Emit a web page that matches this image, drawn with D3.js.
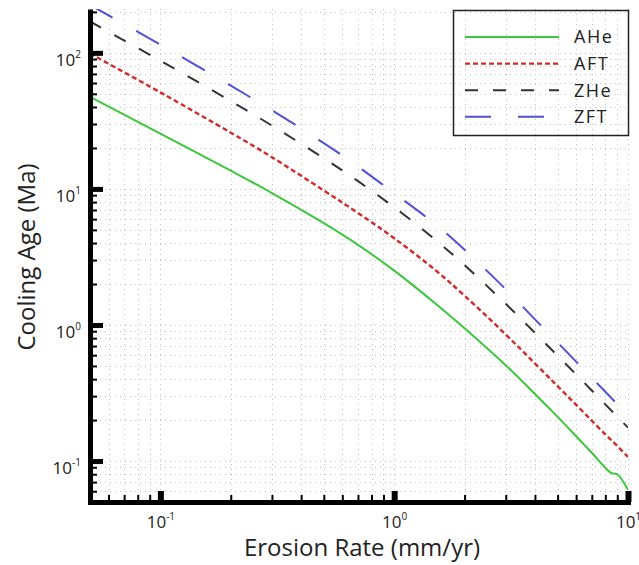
<!DOCTYPE html>
<html>
<head>
<meta charset="utf-8">
<script src="https://cdn.jsdelivr.net/npm/d3@7"></script>
<style>
  body { margin: 0; background: #fff; }
  svg { font-family: "Open Sans", sans-serif; }
</style>
</head>
<body>
<div id="container"></div>
<script>
/* DATA */
const erosionRate = [0.05, 0.1, 0.2, 0.3, 0.5, 0.7, 1, 1.5, 2, 3, 4, 5, 6, 7, 8, 8.5, 9, 10];
const aheAge = [47.5, 25.5, 13.6, 9.33, 5.60, 3.88, 2.51, 1.44, 0.946, 0.505, 0.311, 0.211, 0.152, 0.115, 0.0891, 0.0815, 0.080, 0.0614];
const aftAge = [98.9, 51.2, 25.9, 17.1, 9.73, 6.65, 4.34, 2.53, 1.64, 0.851, 0.521, 0.355, 0.259, 0.198, 0.157, 0.142, 0.129, 0.107];
const zheAge = [170, 87.5, 44.2, 29.2, 16.8, 11.4, 7.33, 4.23, 2.75, 1.43, 0.875, 0.594, 0.433, 0.330, 0.261, 0.234, 0.212, 0.176];
const zftAge = [225, 115, 57.4, 37.8, 21.7, 14.6, 9.29, 5.50, 3.57, 1.83, 1.10, 0.743, 0.538, 0.409, 0.323, 0.290, 0.262, 0.217];
const seriesNames = ["AHe", "AFT", "ZHe", "ZFT"];
const xMajor = [0.1, 1, 10];
const yMajor = [0.1, 1, 10, 100];

/* CONSTANTS */
const width = 639, height = 565;
const plot = { left: 90, right: 628, top: 9, bottom: 502 };
const styles = {
  AHe: { color: "#3cc83c", dash: null, w: 2 },
  AFT: { color: "#d42a2a", dash: "5,3", w: 2.4 },
  ZHe: { color: "#333333", dash: "13,15", w: 2 },
  ZFT: { color: "#5050d8", dash: "26,27", w: 2 }
};

const series = [
  { name: "AHe", values: aheAge },
  { name: "AFT", values: aftAge },
  { name: "ZHe", values: zheAge },
  { name: "ZFT", values: zftAge }
];

const xScale = d3.scaleLog().domain([0.05, 10]).range([plot.left, plot.right]);
const yScale = d3.scaleLog().domain([0.05, 210]).range([plot.bottom, plot.top]);

// all decade ticks (1..9 x 10^k) inside the domain
function logTicks(scale) {
  const [a, b] = scale.domain();
  const out = [];
  for (let e = -3; e <= 3; e++) {
    for (let m = 1; m <= 9; m++) {
      const v = m * Math.pow(10, e);
      if (v >= a * 0.999 && v <= b * 1.001) out.push(+v.toPrecision(3));
    }
  }
  return out;
}
const xAll = logTicks(xScale);
const yAll = logTicks(yScale);
const xMinor = xAll.filter(v => !xMajor.includes(v));
const yMinor = yAll.filter(v => !yMajor.includes(v));

const svg = d3.select("#container").append("svg")
  .attr("width", width)
  .attr("height", height);

svg.append("defs").append("clipPath").attr("id", "clip")
  .append("rect")
  .attr("x", plot.left).attr("y", plot.top)
  .attr("width", plot.right - plot.left).attr("height", plot.bottom - plot.top);

// grid (dotted, light)
const grid = svg.append("g").attr("stroke", "#c2c2c2").attr("stroke-width", 1).attr("stroke-dasharray", "1,4");
grid.selectAll(".gx").data(xAll).join("line")
  .attr("x1", d => Math.round(xScale(d)) + 0.5).attr("x2", d => Math.round(xScale(d)) + 0.5)
  .attr("y1", plot.top).attr("y2", plot.bottom);
grid.selectAll(".gy").data(yAll).join("line")
  .attr("y1", d => Math.round(yScale(d)) + 0.5).attr("y2", d => Math.round(yScale(d)) + 0.5)
  .attr("x1", plot.left).attr("x2", plot.right);

// lines
const line = d3.line()
  .x((d, i) => xScale(erosionRate[i]))
  .y(d => yScale(d))
  .curve(d3.curveCatmullRom.alpha(0.5));

svg.append("g").attr("clip-path", "url(#clip)")
  .selectAll("path").data(series).join("path")
  .attr("fill", "none")
  .attr("stroke", d => styles[d.name].color)
  .attr("stroke-width", d => styles[d.name].w)
  .attr("stroke-dasharray", d => styles[d.name].dash)
  .attr("d", d => line(d.values));

// axes
function supLabel(sel) {
  sel.selectAll(".tick text").each(function(d) {
    const t = d3.select(this).text(null);
    t.append("tspan").text("10");
    t.append("tspan").attr("font-size", 10).attr("dy", -8).text(Math.round(Math.log10(d)));
  });
}

// left minor
svg.append("g").attr("transform", `translate(${plot.left},0)`)
  .call(d3.axisLeft(yScale).tickValues(yMinor).tickSize(-7).tickFormat(""))
  .call(g => g.select(".domain").remove())
  .call(g => g.selectAll(".tick line").attr("stroke", "#000").attr("stroke-width", 2));
// bottom minor
svg.append("g").attr("transform", `translate(0,${plot.bottom})`)
  .call(d3.axisBottom(xScale).tickValues(xMinor).tickSize(-7).tickFormat(""))
  .call(g => g.select(".domain").remove())
  .call(g => g.selectAll(".tick line").attr("stroke", "#000").attr("stroke-width", 2));

// left major + domain
svg.append("g").attr("transform", `translate(${plot.left},0)`)
  .call(d3.axisLeft(yScale).tickValues(yMajor).tickSize(-13).tickSizeOuter(0).tickPadding(9))
  .call(g => g.select(".domain").attr("stroke", "#000").attr("stroke-width", 5))
  .call(g => g.selectAll(".tick line").attr("stroke", "#000").attr("stroke-width", 5))
  .call(g => g.selectAll(".tick text").attr("font-size", 17).attr("fill", "#222")
    .attr("font-family", "Open Sans, sans-serif").attr("dy", "0.75em"))
  .call(supLabel);

// bottom major + domain
svg.append("g").attr("transform", `translate(0,${plot.bottom})`)
  .call(d3.axisBottom(xScale).tickValues(xMajor).tickSize(-11).tickSizeOuter(0))
  .call(g => g.select(".domain").attr("stroke", "#000").attr("stroke-width", 5).attr("stroke-linecap", "square"))
  .call(g => g.selectAll(".tick line").attr("stroke", "#000").attr("stroke-width", 6))
  .call(g => g.selectAll(".tick text").attr("font-size", 17).attr("fill", "#222")
    .attr("font-family", "Open Sans, sans-serif").attr("y", 14).attr("dy", "0.71em"))
  .call(supLabel);

// axis titles
svg.append("text")
  .attr("x", 362)
  .attr("y", 556)
  .attr("text-anchor", "middle")
  .attr("font-size", 24)
  .attr("fill", "#222")
  .text("Erosion Rate (mm/yr)");

svg.append("text")
  .attr("transform", "translate(35,257) rotate(-90)")
  .attr("text-anchor", "middle")
  .attr("font-size", 24)
  .attr("fill", "#222")
  .text("Cooling Age (Ma)");

// legend
const legend = svg.append("g");
legend.append("rect")
  .attr("x", 453.5).attr("y", 10.5).attr("width", 175).attr("height", 125)
  .attr("fill", "none").attr("stroke", "#222").attr("stroke-width", 1.5);
const items = legend.selectAll(".item").data(seriesNames).join("g")
  .attr("transform", (d, i) => `translate(0,${37 + i * 26.6})`);
items.append("line")
  .attr("x1", 465).attr("x2", 559)
  .attr("stroke", d => styles[d].color)
  .attr("stroke-width", d => styles[d].w)
  .attr("stroke-dasharray", d => styles[d].dash);
items.append("text")
  .attr("x", 574).attr("dy", "0.36em")
  .attr("font-size", 18)
  .attr("letter-spacing", 1.5)
  .attr("fill", "#222")
  .text(d => d);
</script>
</body>
</html>
